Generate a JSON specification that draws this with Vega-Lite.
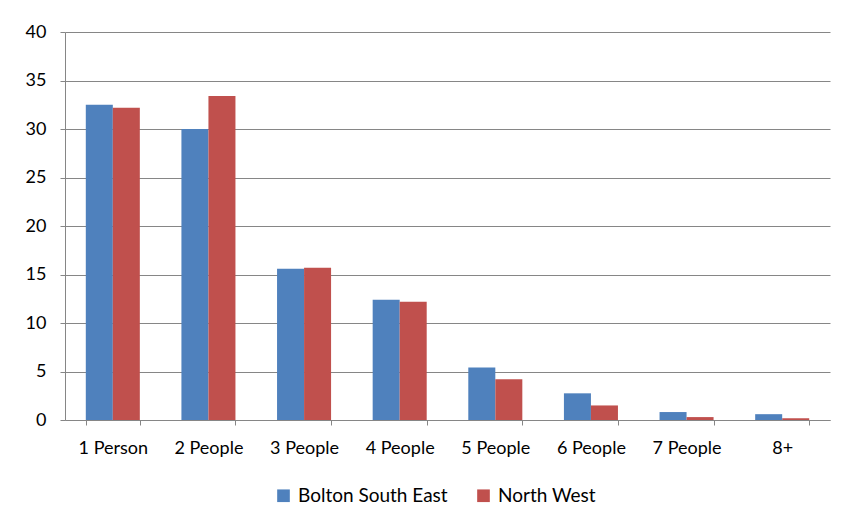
{
  "$schema": "https://vega.github.io/schema/vega-lite/v6.json",
  "autosize": "none",
  "width": 765,
  "height": 388,
  "padding": {"left": 65, "top": 32, "right": 12, "bottom": 102},
  "background": "white",
  "data": {
    "values": [
      {"size": "1 Person", "area": "Bolton South East", "pct": 32.5},
      {"size": "1 Person", "area": "North West", "pct": 32.2},
      {"size": "2 People", "area": "Bolton South East", "pct": 30.0},
      {"size": "2 People", "area": "North West", "pct": 33.4},
      {"size": "3 People", "area": "Bolton South East", "pct": 15.6},
      {"size": "3 People", "area": "North West", "pct": 15.7},
      {"size": "4 People", "area": "Bolton South East", "pct": 12.4},
      {"size": "4 People", "area": "North West", "pct": 12.2},
      {"size": "5 People", "area": "Bolton South East", "pct": 5.4},
      {"size": "5 People", "area": "North West", "pct": 4.2},
      {"size": "6 People", "area": "Bolton South East", "pct": 2.75},
      {"size": "6 People", "area": "North West", "pct": 1.5},
      {"size": "7 People", "area": "Bolton South East", "pct": 0.82},
      {"size": "7 People", "area": "North West", "pct": 0.3},
      {"size": "8+", "area": "Bolton South East", "pct": 0.6},
      {"size": "8+", "area": "North West", "pct": 0.18}
    ]
  },
  "mark": {"type": "bar"},
  "encoding": {
    "x": {
      "field": "size", "type": "nominal", "sort": null,
      "scale": {"paddingInner": 0.435, "paddingOuter": 0.2175},
      "axis": {
        "title": null, "labelAngle": 0, "tickBand": "extent",
        "labelFont": "Lato", "labelFontSize": 18, "labelColor": "#000",
        "labelPadding": 14, "domainColor": "#868686", "tickColor": "#868686", "tickSize": 5
      }
    },
    "xOffset": {"field": "area", "type": "nominal", "sort": ["Bolton South East", "North West"]},
    "y": {
      "field": "pct", "type": "quantitative",
      "scale": {"domain": [0, 40]},
      "axis": {
        "title": null, "values": [0, 5, 10, 15, 20, 25, 30, 35, 40],
        "labelFont": "Lato", "labelFontSize": 18, "labelColor": "#000",
        "labelPadding": 14, "gridColor": "#868686", "domainColor": "#868686",
        "tickColor": "#868686", "tickSize": 5
      }
    },
    "color": {
      "field": "area", "type": "nominal",
      "scale": {"domain": ["Bolton South East", "North West"], "range": ["#4F81BD", "#C0504D"]},
      "legend": {
        "title": null, "orient": "none", "direction": "horizontal",
        "legendX": 209, "legendY": 454,
        "symbolType": "square", "symbolSize": 160, "symbolStrokeWidth": 0,
        "labelFont": "Lato", "labelFontSize": 19, "labelColor": "#000",
        "columnPadding": 26, "labelOffset": 5
      }
    }
  },
  "config": {"view": {"stroke": null}}
}
